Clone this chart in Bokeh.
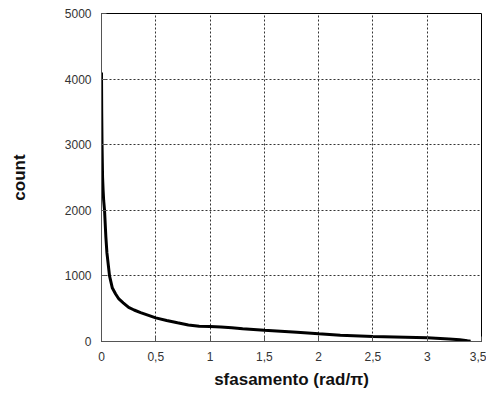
from bokeh.plotting import figure
from bokeh.models import Range1d, FixedTicker
from bokeh.embed import file_html
from bokeh.resources import INLINE

# data
phase = [0, 0.002, 0.005, 0.01, 0.015, 0.02, 0.028, 0.04, 0.05, 0.074, 0.1, 0.13,
         0.16, 0.2, 0.25, 0.3, 0.36, 0.5, 0.6, 0.7, 0.8, 0.9, 1.0, 1.1, 1.2, 1.3,
         1.5, 1.8, 2.0, 2.2, 2.5, 2.8, 3.0, 3.2, 3.3, 3.37, 3.4]
count = [4100, 3500, 3000, 2500, 2300, 2150, 2000, 1600, 1350, 1000, 815, 724,
         648, 590, 520, 480, 440, 360, 320, 285, 252, 233, 228, 222, 210, 195,
         170, 140, 117, 95, 76, 65, 56, 38, 25, 10, 5]
x_ticks = [0, 0.5, 1, 1.5, 2, 2.5, 3, 3.5]
x_tick_labels = ["0", "0,5", "1", "1,5", "2", "2,5", "3", "3,5"]
y_ticks = [0, 1000, 2000, 3000, 4000, 5000]

p = figure(width=486, height=394, output_backend="svg", toolbar_location=None,
           x_range=Range1d(0, 3.5), y_range=Range1d(0, 5000),
           min_border_left=101, min_border_right=5, min_border_top=13,
           min_border_bottom=53)

p.background_fill_color = "white"
p.border_fill_color = "white"
p.outline_line_color = "black"
p.outline_line_width = 1

p.line(phase, count, line_color="black", line_width=3)

for ax in (p.xaxis[0], p.yaxis[0]):
    ax.axis_line_color = "#555555"
    ax.major_tick_in = 5
    ax.major_tick_out = 0
    ax.minor_tick_line_color = None
    ax.major_tick_line_color = "#555555"
    ax.major_label_text_font = "Liberation Sans"
    ax.major_label_text_font_size = "12px"
    ax.major_label_text_color = "#333333"
    ax.axis_label_text_font = "Liberation Sans"
    ax.axis_label_text_font_style = "bold"
    ax.axis_label_text_font_size = "17px"
    ax.axis_label_text_color = "#111111"

p.xaxis[0].ticker = FixedTicker(ticks=x_ticks)
p.xaxis[0].major_label_overrides = {t: l for t, l in zip(x_ticks, x_tick_labels)}
p.xaxis[0].major_label_standoff = 10
p.xaxis[0].axis_label = "sfasamento (rad/π)"
p.xaxis[0].axis_label_standoff = 6

p.yaxis[0].ticker = FixedTicker(ticks=y_ticks)
p.yaxis[0].major_label_standoff = 10
p.yaxis[0].axis_label = "count"
p.yaxis[0].axis_label_standoff = 33

p.xgrid.ticker = FixedTicker(ticks=x_ticks)
p.ygrid.ticker = FixedTicker(ticks=y_ticks)
for g in (p.xgrid[0], p.ygrid[0]):
    g.grid_line_color = "#333333"
    g.grid_line_dash = "2 2"
    g.grid_line_width = 1

open("out.html", "w").write(file_html(p, INLINE))
